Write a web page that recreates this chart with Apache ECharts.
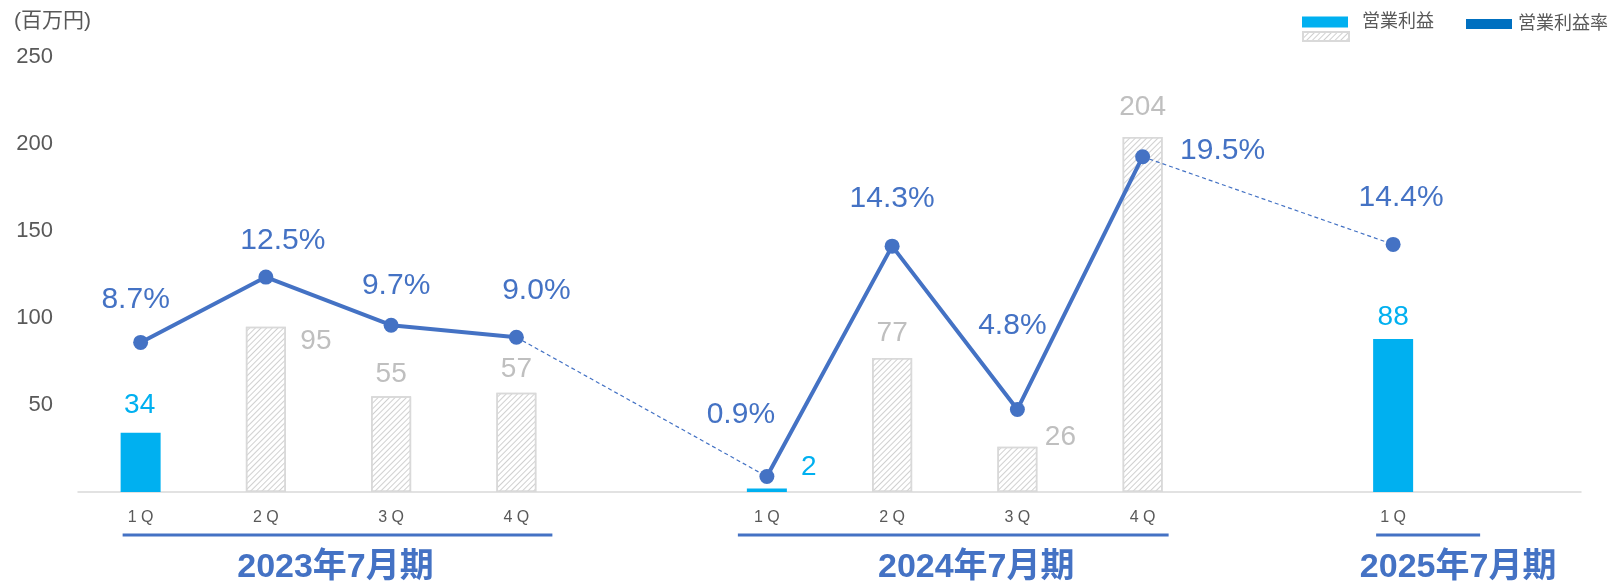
<!DOCTYPE html>
<html><head><meta charset="utf-8">
<script src="https://cdn.jsdelivr.net/npm/echarts@6/dist/echarts.min.js"></script>
<style>html,body{margin:0;padding:0;background:#fff}#c{width:1615px;height:584px}</style>
</head><body><div id="c"></div>
<script>
// ---- data ----
const categories = ['1Q','2Q','3Q','4Q','','1Q','2Q','3Q','4Q','','1Q',''];
const profitHighlighted = [34,null,null,null,null,2,null,null,null,null,88,null];
const profitOther = [null,95,55,57,null,null,77,26,204,null,null,null];
const profitMargin = [8.7,12.5,9.7,9.0,null,0.9,14.3,4.8,19.5,null,14.4,null];
const yAxisTicks = {min:0, max:250, interval:50};
const fiscalGroups = [
  {title:'2023年7月期', first:0, last:3},
  {title:'2024年7月期', first:5, last:8},
  {title:'2025年7月期', first:10, last:10}
];
const bridges = [[3,5],[8,10]];

// ---- layout (label nudges, px) ----
const barLabelOffsets = [[-1,-9],[50,34],[0,-3],[0,-4.5],null,[42,-2],[0,-6],[43,10],[0,-11],null,[0,-3],null];
const lineLabelOffsets = [[-5,-15],[17,-8.6],[5,-11.5],[20,-18.8],null,[-26,-34],[0,-19.7],[-5,-56],[80,21.2],null,[8,-19],null];
const groupLayout = [
  {lineFrom:-18, lineTo:36, titleShift:7},
  {lineFrom:-29, lineTo:26, titleShift:21.5},
  {lineFrom:-17, lineTo:87, titleShift:65}
];

const FONT = "'Liberation Sans', 'Noto Sans CJK JP', sans-serif";
const CYAN = '#00B0F0', BLUE = '#4472C4', GREY = '#BFBFBF', TXT = '#595959';

const chart = echarts.init(document.getElementById('c'), null, {renderer:'canvas'});

const barItems = (arr) => arr.map((v,i) => v == null ? null : {value:v, label:{offset: barLabelOffsets[i] || [0,0]}});
const lineItems = profitMargin.map((v,i) => v == null ? null : {value:v, label:{offset: lineLabelOffsets[i] || [0,0]}});

const bridgeSeries = bridges.map((b,k) => ({
  name: 'bridge' + k, type:'line', yAxisIndex:1, connectNulls:true, symbol:'none', silent:true,
  data: profitMargin.map((v,i) => (i === b[0] || i === b[1]) ? v : null),
  lineStyle:{color:BLUE, width:1.2, type:[4,3]}, z:3
}));

chart.setOption({
  animation:false,
  title:{text:'(百万円)', left:9, top:6, textStyle:{fontSize:21, fontWeight:'normal', color:TXT, fontFamily:FONT}},
  grid:{left:78, right:34, top:57, bottom:92},
  legend:[
    {data:['営業利益'], left:1302, top:13, padding:0, itemWidth:46, itemHeight:11, icon:'rect', selectedMode:false,
     textStyle:{fontSize:18, color:TXT, fontFamily:FONT, padding:[0,0,0,9]}},
    {data:['営業利益（2Q〜4Q）'], left:1302, top:31, padding:0, itemWidth:46, itemHeight:9, icon:'rect', selectedMode:false,
     formatter:() => ''},
    {data:[{name:'営業利益率', icon:'rect', itemStyle:{color:'#0070C0', borderWidth:0}}], left:1466, top:15, padding:0, itemWidth:46, itemHeight:10, selectedMode:false,
     textStyle:{fontSize:18, color:TXT, fontFamily:FONT, padding:[0,0,0,1]}}
  ],
  xAxis:{type:'category', data:categories, boundaryGap:true,
    axisLine:{lineStyle:{color:'#D9D9D9', width:1.5}}, axisTick:{show:false},
    axisLabel:{interval:0, margin:18, fontSize:16, color:TXT, fontFamily:FONT, formatter:(v) => v.split('').join(' ')}},
  yAxis:[
    {type:'value', min:yAxisTicks.min, max:yAxisTicks.max, interval:yAxisTicks.interval,
     splitLine:{show:false}, axisLine:{show:false}, axisTick:{show:false},
     axisLabel:{margin:25, fontSize:22, color:TXT, fontFamily:FONT, formatter:(v) => v === 0 ? '' : String(v)}},
    {type:'value', min:0, max:25.3, show:false, splitLine:{show:false}}
  ],
  series:[
    {name:'営業利益', type:'bar', barWidth:40, barGap:'-100%', data:barItems(profitHighlighted),
     itemStyle:{color:CYAN},
     label:{show:true, position:'top', distance:5, fontSize:28, color:CYAN, fontFamily:FONT}, z:2},
    {name:'営業利益（2Q〜4Q）', type:'bar', barWidth:40, barGap:'-100%', data:barItems(profitOther),
     itemStyle:{color:'#ffffff', borderColor:'#D9D9D9', borderWidth:1.5,
       decal:{symbol:'rect', symbolSize:1, color:'#D0D0D0', dashArrayX:[1,0], dashArrayY:[1,3], rotation:-Math.PI/4}},
     label:{show:true, position:'top', distance:5, fontSize:28, color:GREY, fontFamily:FONT}, z:2},
    ...bridgeSeries,
    {name:'営業利益率', type:'line', yAxisIndex:1, connectNulls:false, data:lineItems,
     symbol:'circle', symbolSize:15, showSymbol:true,
     itemStyle:{color:BLUE}, lineStyle:{color:BLUE, width:4},
     label:{show:true, position:'top', distance:5, fontSize:30, color:BLUE, fontFamily:FONT,
       formatter:(p) => Number(p.value).toFixed(1) + '%'}, z:4}
  ]
});

// fiscal-year group brackets and titles, placed from the category scale
const px = (i) => chart.convertToPixel({xAxisIndex:0}, i);
const graphics = [];
fiscalGroups.forEach((g,k) => {
  const L = groupLayout[k];
  const x0 = px(g.first), x1 = px(g.last);
  graphics.push({type:'line', shape:{x1:x0 + L.lineFrom, y1:535, x2:x1 + L.lineTo, y2:535},
    style:{stroke:BLUE, lineWidth:3}, silent:true});
  graphics.push({type:'text', x:(x0 + x1) / 2 + L.titleShift, y:568,
    style:{text:g.title, fill:BLUE, fontSize:34, fontWeight:'bold', fontFamily:FONT, align:'center', verticalAlign:'middle'}, silent:true});
});
chart.setOption({graphic:graphics});
</script>
</body></html>
